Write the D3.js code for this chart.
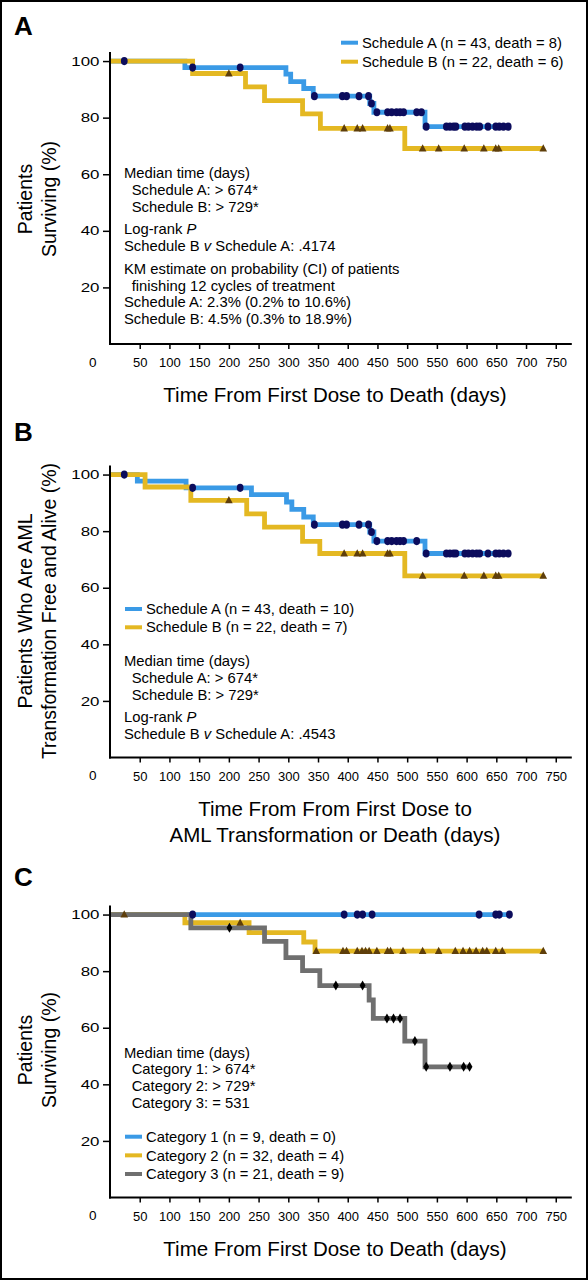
<!DOCTYPE html>
<html><head><meta charset="utf-8">
<script src="https://cdn.jsdelivr.net/npm/d3@7"></script>
<style>
html,body{margin:0;padding:0;background:#fff;}
svg{display:block;font-family:"Liberation Sans",Arial,sans-serif;}
</style></head>
<body>
<svg id="chart" width="588" height="1280"></svg>
<script>
// ---------- DATA ----------
const timeTicks = [50,100,150,200,250,300,350,400,450,500,550,600,650,700,750];
const pctTicks = [20,40,60,80,100];

// Panel A: overall survival
const aSchedASteps = [[0,100],[126,97.7],[296,95.4],[304,92.7],[326,90.3],[342,87.6],[437,85.0],[444,81.9],[530,76.8]];
const aSchedAEnd = 674;
const aSchedACens = [24,139,219,344,391,398,419,435,440,449,467,474,482,488,494,516,524,532,566,572,578,582,597,603,610,617,622,636,649,655,662,670];
const aSchedBSteps = [[0,100],[139,95.6],[228,90.9],[260,86.0],[324,81.3],[354,76.2],[496,69.1]];
const aSchedBEnd = 729;
const aSchedBCens = [200,394,416,425,467,471,526,553,596,629,649,654,729];

// Panel B: AML transformation-free survival
const bSchedASteps = [[0,100],[46,97.7],[128,95.3],[238,92.9],[297,90.3],[306,87.7],[326,85.0],[342,82.3],[437,79.7],[444,76.5],[530,72.1]];
const bSchedAEnd = 674;
const bSchedACens = [24,139,219,344,391,398,419,435,440,449,467,474,482,488,494,516,532,566,572,578,582,597,603,610,617,622,636,649,655,662,670];
const bSchedBSteps = [[0,100],[59,95.6],[136,90.9],[230,86.1],[260,81.4],[324,76.4],[353,72.1],[496,64.2]];
const bSchedBEnd = 729;
const bSchedBCens = [200,394,416,425,467,471,526,596,629,649,654,729];

// Panel C: survival by category
const cCat1Steps = [[0,100]];
const cCat1End = 674;
const cCat1Cens = [139,394,416,425,441,621,649,655,672];
const cCat2Steps = [[0,100],[126,97.1],[234,93.6],[326,90.3],[345,87.1]];
const cCat2End = 729;
const cCat2Cens = [24,219,347,392,398,416,424,430,436,449,467,472,493,526,553,581,594,605,616,627,634,649,660,729];
const cCat3Steps = [[0,100],[136,95.3],[260,90.5],[296,84.8],[324,80.2],[353,74.9],[436,69.8],[443,63.3],[496,55.3],[530,46.2]];
const cCat3End = 606;
const cCat3Cens = [201,380,425,466,477,488,513,532,572,595,605];

const legendA = ["Schedule A (n = 43, death = 8)","Schedule B (n = 22, death = 6)"];
const legendB = ["Schedule A (n = 43, death = 10)","Schedule B (n = 22, death = 7)"];
const legendC = ["Category 1 (n = 9, death = 0)","Category 2 (n = 32, death = 4)","Category 3 (n = 21, death = 9)"];

// ---------- STYLE ----------
const BLUE = "#3a9ae6", GOLD = "#e4b822", GREY = "#6f6f6f";
const NAVY = "#0c0c5c", BROWN = "#5e3e0a", BLACK = "#000";
const NOTE_FS = 14.8;

const svg = d3.select("#chart");
svg.append("rect").attr("x",1).attr("y",1).attr("width",586).attr("height",1278)
  .attr("fill","none").attr("stroke","#000").attr("stroke-width",2);

const x = d3.scaleLinear().domain([0,777]).range([110,571.8]);

function survAt(steps,t){let v=steps[0][1];for(const s of steps){if(s[0]<=t)v=s[1];}return v;}

function marker(g, type, cx, cy, color){
  if(type==="circle"){
    g.append("ellipse").attr("cx",cx).attr("cy",cy).attr("rx",3.4).attr("ry",4.1).attr("fill",color);
  } else if(type==="tri"){
    g.append("path").attr("d",`M${cx-3.8},${cy+3}L${cx+3.8},${cy+3}L${cx},${cy-4.3}Z`).attr("fill",color);
  } else {
    g.append("path").attr("d",`M${cx},${cy-5}L${cx+2.9},${cy}L${cx},${cy+5}L${cx-2.9},${cy}Z`).attr("fill",color);
  }
}

function panel(cfg){
  const y0 = cfg.y0;
  const y = d3.scaleLinear().domain([0,103.2]).range([y0, y0-292]);
  const g = svg.append("g");
  g.append("text").attr("x",14).attr("y",cfg.letterY).attr("font-size",26).attr("font-weight","bold").text(cfg.letter);
  const line = d3.line().x(d=>x(d[0])).y(d=>y(d[1])).curve(d3.curveStepAfter);
  cfg.series.forEach(s=>{
    const pts = s.steps.concat([[s.end, s.steps[s.steps.length-1][1]]]);
    g.append("path").attr("d",line(pts)).attr("fill","none").attr("stroke",s.color).attr("stroke-width",4.8);
  });
  cfg.series.forEach(s=>{
    s.cens.forEach(t=>marker(g, s.mark, x(t), y(survAt(s.steps,t)), s.mcolor));
  });
  const xa = g.append("g").attr("transform",`translate(0,${y0})`)
    .call(d3.axisBottom(x).tickValues(timeTicks).tickSize(5).tickPadding(9).tickSizeOuter(0));
  xa.select(".domain").attr("stroke-width",2).attr("d",`M109,0H571.8`);
  xa.selectAll(".tick line").attr("stroke-width",1.5);
  xa.selectAll("text").attr("font-size",13).attr("font-family","Liberation Sans, Arial, sans-serif");
  g.append("text").attr("x",92.7).attr("y",y0+18).attr("dy","0.35em").attr("text-anchor","middle")
    .attr("font-size",13.5).text("0");
  const ya = g.append("g").attr("transform",`translate(110,0)`)
    .call(d3.axisLeft(y).tickValues(pctTicks).tickSize(7).tickSizeOuter(0));
  ya.select(".domain").attr("stroke-width",2).attr("d",`M0,${y0+1}V${y(103.2)}`);
  ya.selectAll(".tick line").attr("stroke-width",1.5);
  ya.selectAll("text").attr("font-size",12.8).attr("font-family","Liberation Sans, Arial, sans-serif")
    .attr("x",-10.5/1.32).attr("transform","scale(1.32,1)");
  cfg.ytitle.forEach((t,i)=>{
    g.append("text").attr("transform",`translate(${25+i*24.5},${cfg.ytitleY}) rotate(-90)`)
      .attr("text-anchor","middle").attr("dy","0.35em").attr("font-size",19.5).text(t);
  });
  cfg.xtitle.forEach((t,i)=>{
    g.append("text").attr("x",335).attr("y",cfg.xtitleY+i*26).attr("dy","0.35em")
      .attr("text-anchor","middle").attr("font-size",20.5).text(t);
  });
  cfg.legend.forEach((t,i)=>{
    const ly = cfg.legendY + i*cfg.legendGap;
    g.append("line").attr("x1",cfg.legendX).attr("x2",cfg.legendX+17).attr("y1",ly).attr("y2",ly)
      .attr("stroke",cfg.series[i].color).attr("stroke-width",4);
    g.append("text").attr("x",cfg.legendX+21).attr("y",ly).attr("dy","0.35em").attr("font-size",NOTE_FS).text(t);
  });
  cfg.notes.forEach(n=>{
    const tx = g.append("text").attr("x",n.indent?131.7:124).attr("y",n.y).attr("dy","0.35em").attr("font-size",NOTE_FS);
    n.parts.forEach(p=>{
      const ts = tx.append("tspan").text(p.t);
      if(p.i) ts.attr("font-style","italic");
    });
  });
}

panel({
  letter:"A", letterY:35, y0:344,
  series:[
    {steps:aSchedASteps,end:aSchedAEnd,cens:aSchedACens,color:BLUE,mark:"circle",mcolor:NAVY},
    {steps:aSchedBSteps,end:aSchedBEnd,cens:aSchedBCens,color:GOLD,mark:"tri",mcolor:BROWN}
  ],
  ytitle:["Patients","Surviving (%)"], ytitleY:199,
  xtitle:["Time From First Dose to Death (days)"], xtitleY:395,
  legend:legendA, legendX:341, legendY:42.7, legendGap:19,
  notes:[
    {y:173.3,parts:[{t:"Median time (days)"}]},
    {y:190,indent:1,parts:[{t:"Schedule A: > 674*"}]},
    {y:206.7,indent:1,parts:[{t:"Schedule B: > 729*"}]},
    {y:229.3,parts:[{t:"Log-rank "},{t:"P",i:1}]},
    {y:246,parts:[{t:"Schedule B "},{t:"v",i:1},{t:" Schedule A: .4174"}]},
    {y:269,parts:[{t:"KM estimate on probability (CI) of patients"}]},
    {y:285.7,indent:1,parts:[{t:"finishing 12 cycles of treatment"}]},
    {y:302.3,parts:[{t:"Schedule A: 2.3% (0.2% to 10.6%)"}]},
    {y:319,parts:[{t:"Schedule B: 4.5% (0.3% to 18.9%)"}]}
  ]
});

panel({
  letter:"B", letterY:441, y0:757.5,
  series:[
    {steps:bSchedASteps,end:bSchedAEnd,cens:bSchedACens,color:BLUE,mark:"circle",mcolor:NAVY},
    {steps:bSchedBSteps,end:bSchedBEnd,cens:bSchedBCens,color:GOLD,mark:"tri",mcolor:BROWN}
  ],
  ytitle:["Patients Who Are AML","Transformation Free and Alive (%)"], ytitleY:611,
  xtitle:["Time From From First Dose to","AML Transformation or Death (days)"], xtitleY:809,
  legend:legendB, legendX:125, legendY:609, legendGap:18.3,
  notes:[
    {y:661,parts:[{t:"Median time (days)"}]},
    {y:678,indent:1,parts:[{t:"Schedule A: > 674*"}]},
    {y:695,indent:1,parts:[{t:"Schedule B: > 729*"}]},
    {y:717.3,parts:[{t:"Log-rank "},{t:"P",i:1}]},
    {y:734,parts:[{t:"Schedule B "},{t:"v",i:1},{t:" Schedule A: .4543"}]}
  ]
});

panel({
  letter:"C", letterY:886, y0:1197.5,
  series:[
    {steps:cCat1Steps,end:cCat1End,cens:cCat1Cens,color:BLUE,mark:"circle",mcolor:NAVY},
    {steps:cCat2Steps,end:cCat2End,cens:cCat2Cens,color:GOLD,mark:"tri",mcolor:BROWN},
    {steps:cCat3Steps,end:cCat3End,cens:cCat3Cens,color:GREY,mark:"diamond",mcolor:BLACK}
  ],
  ytitle:["Patients","Surviving (%)"], ytitleY:1050,
  xtitle:["Time From First Dose to Death (days)"], xtitleY:1249,
  legend:legendC, legendX:125, legendY:1136.7, legendGap:18.65,
  notes:[
    {y:1052.7,parts:[{t:"Median time (days)"}]},
    {y:1069.3,indent:1,parts:[{t:"Category 1: > 674*"}]},
    {y:1086,indent:1,parts:[{t:"Category 2: > 729*"}]},
    {y:1102.7,indent:1,parts:[{t:"Category 3: = 531"}]}
  ]
});
</script>
</body></html>
